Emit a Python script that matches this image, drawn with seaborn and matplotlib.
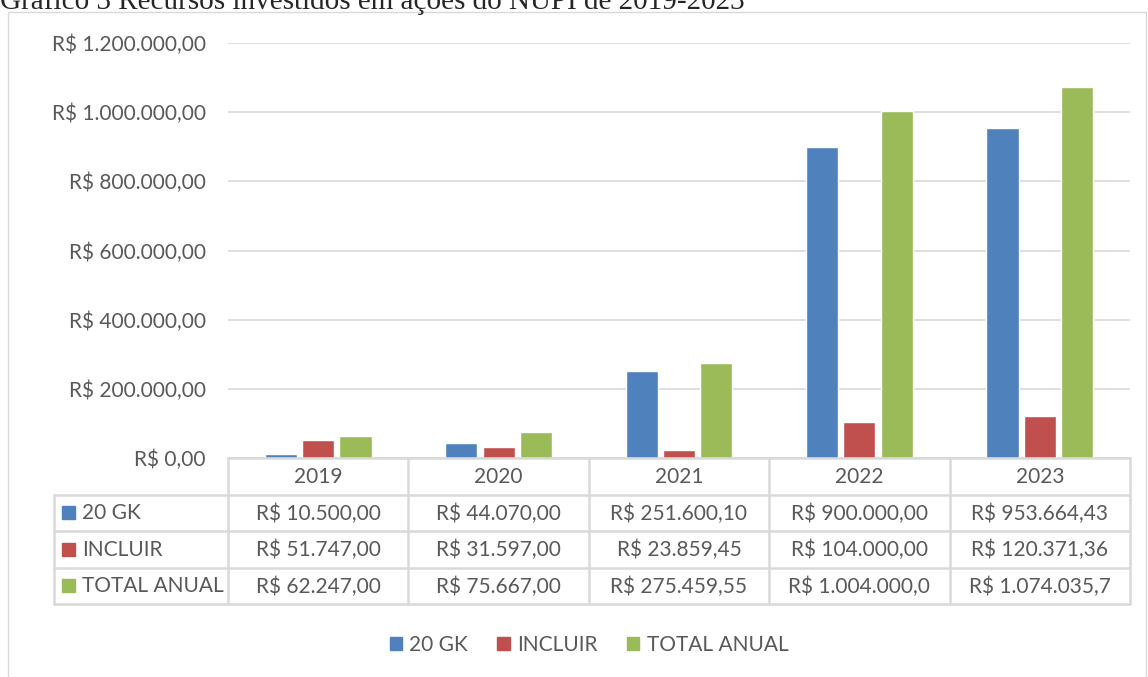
import numpy as np
import pandas as pd
import seaborn as sns
import matplotlib.pyplot as plt
from matplotlib.patches import Rectangle

# Dados do gráfico
anos = ['2019', '2020', '2021', '2022', '2023']
series = ['20 GK', 'INCLUIR', 'TOTAL ANUAL']
gk = [10500.00, 44070.00, 251600.10, 900000.00, 953664.43]
incluir = [51747.00, 31597.00, 23859.45, 104000.00, 120371.36]
total = [62247.00, 75667.00, 275459.55, 1004000.00, 1074035.79]
cores = ['#4F81BD', '#C0504D', '#9BBB59']
titulo = 'Gráfico 3 Recursos investidos em ações do NUPI de 2019-2023'


def brl(v):
    s = f'{v:,.2f}'.replace(',', 'X').replace('.', ',').replace('X', '.')
    return 'R$ ' + s


df = pd.DataFrame({'Ano': anos * 3,
                   'Serie': np.repeat(series, len(anos)),
                   'Valor': gk + incluir + total})

sns.set_theme(style='white')
plt.rcParams['font.family'] = ['Lato', 'DejaVu Sans']
cinza = '#595959'
linha = '#D9D9D9'
fs = 15
W, H = 1148, 677
fig = plt.figure(figsize=(W / 100, H / 100), dpi=100)


def box(x0, y0, x1, y1):  # pixels -> fração da figura
    return [x0 / W, 1 - y1 / H, (x1 - x0) / W, (y1 - y0) / H]


# Barras
ax = fig.add_axes(box(228, 43, 1130, 458))
sns.barplot(data=df, x='Ano', y='Valor', hue='Serie', palette=cores,
            saturation=1, width=0.62, gap=0.14, ax=ax, legend=False)
ax.set_xlim(-0.5, 4.5)
ax.set_ylim(0, 1200000)
ticks = np.arange(0, 1200001, 200000)
ax.set_yticks(ticks)
ax.set_yticklabels([brl(t) if t else 'R$ 0,00' for t in ticks], color=cinza, fontsize=fs)
ax.set_xticks([])
ax.set_xlabel('')
ax.set_ylabel('')
ax.tick_params(axis='y', length=0, pad=16)
ax.grid(axis='y', color=linha, lw=1.2)
ax.set_axisbelow(True)
for s in ax.spines.values():
    s.set_visible(False)

# Tabela de dados embaixo
tax = fig.add_axes(box(54, 458, 1130, 604))
esq = -0.5 - 174 / 180.4
tax.set_xlim(esq, 4.5)
tax.set_ylim(4, 0)
tax.axis('off')
kw = dict(color=linha, lw=1.8, clip_on=False)
tax.plot([-0.5, 4.5], [0, 0], **kw)
for r in range(1, 5):
    tax.plot([esq, 4.5], [r, r], **kw)
tax.plot([esq, esq], [1, 4], **kw)
for c in range(6):
    tax.plot([c - 0.5, c - 0.5], [0, 4], **kw)

for i, ano in enumerate(anos):
    tax.text(i, 0.52, ano, ha='center', va='center', color=cinza, fontsize=fs)
for r, (nome, vals, cor) in enumerate(zip(series, [gk, incluir, total], cores), start=1):
    tax.add_patch(Rectangle((esq + 8 / 180.4, r + 0.32), 13 / 180.4, 0.36, color=cor, clip_on=False))
    tax.text(esq + 28 / 180.4, r + 0.52, nome, ha='left', va='center', color=cinza, fontsize=fs)
    for i, v in enumerate(vals):
        # o Excel corta o texto que não cabe na célula
        tax.text(i, r + 0.52, brl(v)[:14], ha='center', va='center', color=cinza, fontsize=fs)

# Legenda
handles = [Rectangle((0, 0), 1, 1, color=c) for c in cores]
fig.legend(handles, series, loc='center', bbox_to_anchor=(589 / W, 1 - 645 / H), ncol=3,
           frameon=False, handlelength=0.6, handleheight=0.6, columnspacing=1.4,
           handletextpad=0.35, labelcolor=cinza, fontsize=fs)

# Moldura e título
fig.add_artist(Rectangle((8 / W, -0.1), (1146 - 8) / W, 1.1 - 12 / H,
                         transform=fig.transFigure, fill=False, ec=linha, lw=1))
fig.text(0, 1 - 9 / H, titulo, family='Liberation Serif', fontsize=21, va='baseline', ha='left')

fig.savefig('out.png', dpi=100)
